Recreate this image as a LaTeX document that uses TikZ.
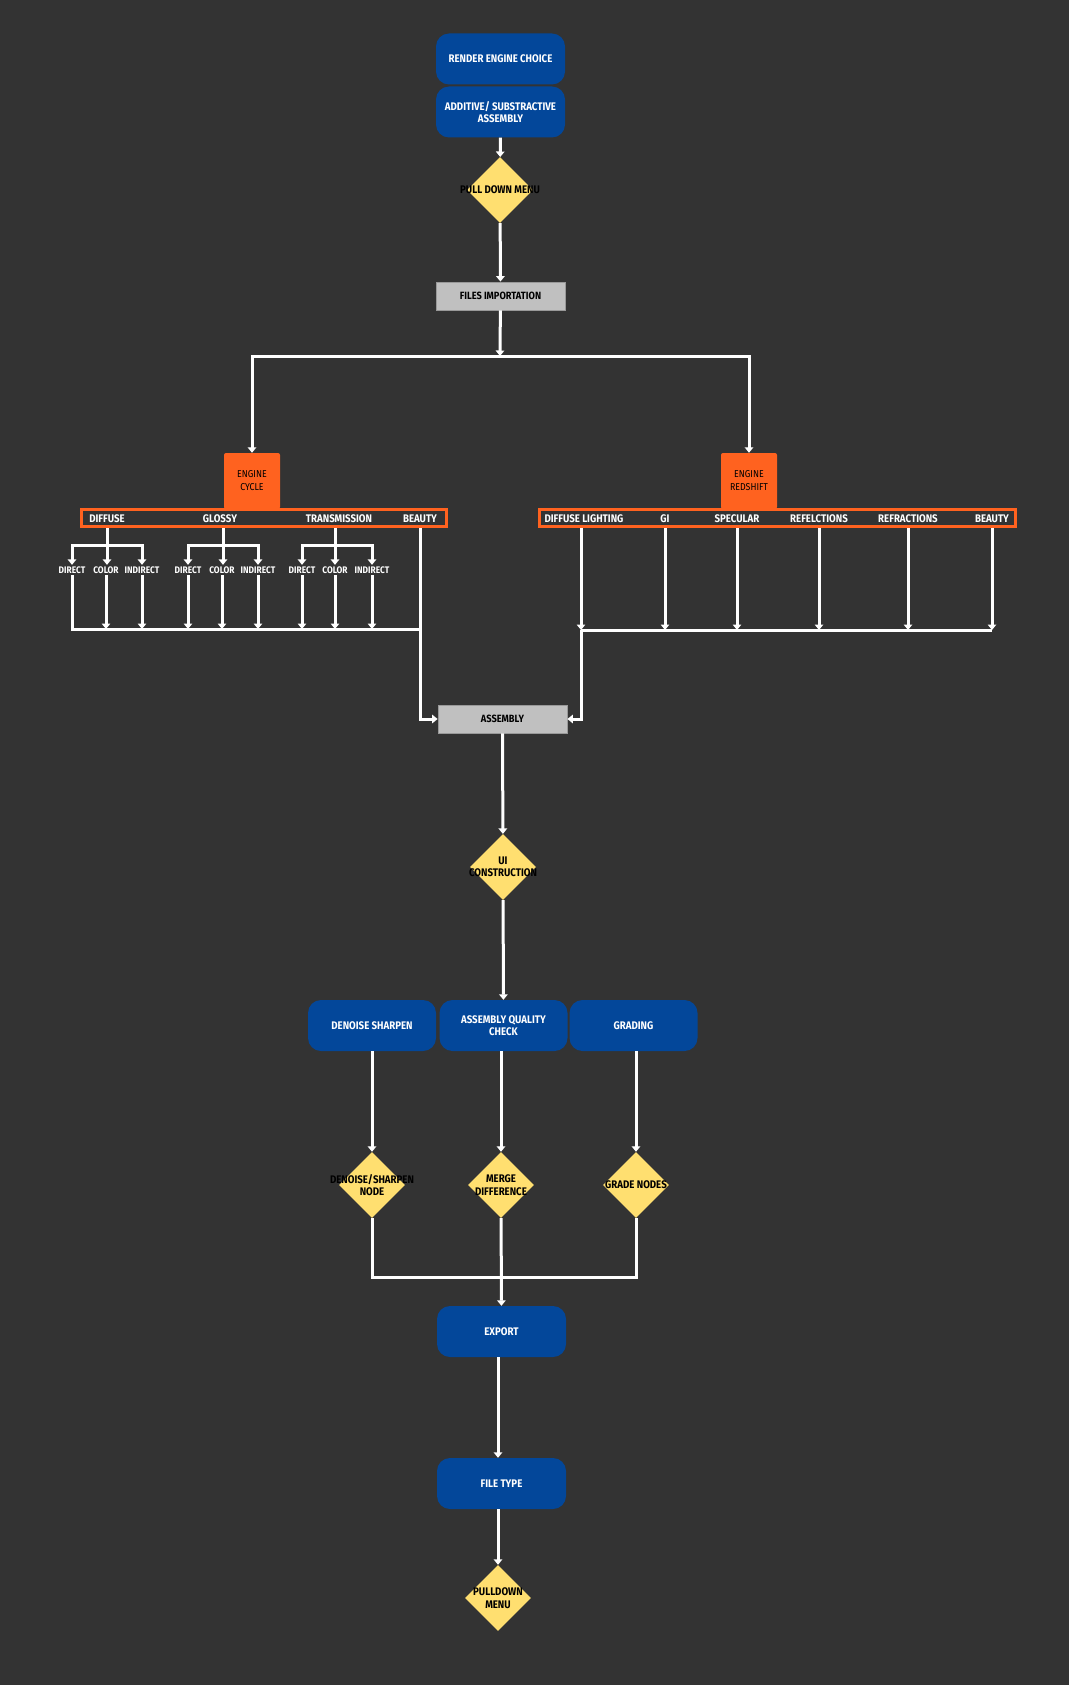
\documentclass[tikz,border=0pt]{standalone}
\usepackage{fontspec}
\setmainfont{Fira Sans}[FakeStretch=0.88]
\usetikzlibrary{arrows.meta,shapes.geometric,positioning}
\definecolor{bgdark}{HTML}{333333}
\definecolor{flowblue}{HTML}{03479A}
\definecolor{floworange}{HTML}{FF621F}
\definecolor{flowyellow}{HTML}{FFDF70}
\definecolor{flowgray}{HTML}{C0C0C0}
\begin{document}
\begin{tikzpicture}[x=1pt, y=-1pt,
    flow/.style={draw=white, line width=3pt, -{Triangle[width=8.5pt,length=5.5pt]}},
    wire/.style={draw=white, line width=3pt},
    bluebox/.style={rectangle, rounded corners=13pt, fill=flowblue, text=white, minimum width=129pt, minimum height=51pt, align=center, font=\bfseries\fontsize{11}{12.5}\selectfont},
    graybox/.style={rectangle, fill=flowgray, draw=gray!80, line width=0.8pt, minimum width=129pt, minimum height=28pt, font=\bfseries\fontsize{10.5}{10}\selectfont},
    choice/.style={diamond, fill=flowyellow, minimum width=66pt, minimum height=66pt, inner sep=0pt},
    choicetext/.style={align=center, text=black, font=\bfseries\fontsize{11}{12.5}\selectfont},
    enginebox/.style={rectangle, rounded corners=2pt, fill=floworange, minimum width=56pt, minimum height=56pt, align=center, font=\fontsize{10}{13}\selectfont},
    passbar/.style={rectangle, draw=floworange, line width=3pt, minimum height=17pt, inner sep=0pt},
    passlabel/.style={text=white, inner sep=1pt, font=\bfseries\fontsize{11}{10}\selectfont},
    sublabel/.style={text=white, inner sep=1.5pt, font=\bfseries\fontsize{9.5}{9}\selectfont}]

  % Background and page size
  \fill[bgdark] (0,0) rectangle (1069,1685);
  \useasboundingbox (0,0) rectangle (1069,1685);

  % Top of the chain
  \node[bluebox] (render) at (500.5,59) {RENDER ENGINE CHOICE};
  \node[bluebox] (additive) at (500.5,112) {ADDITIVE/ SUBSTRACTIVE\\ASSEMBLY};
  \node[choice] (pull) at (500,190) {};
  \node[choicetext] (pulltext) at (pull) {PULL DOWN MENU};
  \node[graybox] (files) at (500.5,296) {FILES IMPORTATION};
  \coordinate (split) at (500,356);

  % Engines and their pass bars
  \node[enginebox] (cycle) at (252,481) {ENGINE\\CYCLE};
  \node[enginebox] (redshift) at (749,481) {ENGINE\\REDSHIFT};
  \node[passbar, minimum width=365pt] (cycbar) at (264,518) {};
  \node[passbar, minimum width=476pt] (rsbar) at (777.5,518) {};

  \node[passlabel] (diffuse) at (107,519) {DIFFUSE};
  \node[passlabel] (glossy) at (220,519) {GLOSSY};
  \node[passlabel] (transm) at (339,519) {TRANSMISSION};
  \node[passlabel] (cbeauty) at (420,519) {BEAUTY};

  \node[passlabel] (dlight) at (584,519) {DIFFUSE LIGHTING};
  \node[passlabel] (gi) at (665,519) {GI};
  \node[passlabel] (spec) at (737,519) {SPECULAR};
  \node[passlabel] (refl) at (819,519) {REFELCTIONS};
  \node[passlabel] (refr) at (908,519) {REFRACTIONS};
  \node[passlabel] (rbeauty) at (992,519) {BEAUTY};

  % Sub passes of the cycle engine
  \node[sublabel] (dd) at (72,570) {DIRECT};
  \node[sublabel] (dc) at (106,570) {COLOR};
  \node[sublabel] (di) at (142,570) {INDIRECT};
  \node[sublabel] (gd) at (188,570) {DIRECT};
  \node[sublabel] (gc) at (222,570) {COLOR};
  \node[sublabel] (gin) at (258,570) {INDIRECT};
  \node[sublabel] (td) at (302,570) {DIRECT};
  \node[sublabel] (tc) at (335,570) {COLOR};
  \node[sublabel] (ti) at (372,570) {INDIRECT};

  % Assembly and UI
  \node[graybox] (assembly) at (502.5,719) {ASSEMBLY};
  \node[choice] (ui) at (503,867) {};
  \node[choicetext] (uitext) at (ui) {UI\\CONSTRUCTION};

  % Three checks
  \node[bluebox, minimum width=128pt] (denoise) at (372,1025.5) {DENOISE SHARPEN};
  \node[bluebox, minimum width=128pt] (qc) at (503.5,1025.5) {ASSEMBLY QUALITY\\CHECK};
  \node[bluebox, minimum width=128pt] (grading) at (633.5,1025.5) {GRADING};
  \node[choice] (dnode) at (372,1185) {};
  \node[choicetext] (dnodetext) at (dnode) {DENOISE/SHARPEN\\NODE};
  \node[choice] (merge) at (501,1185) {};
  \node[choicetext] (mergetext) at (merge) {MERGE\\DIFFERENCE};
  \node[choice] (grade) at (636,1185) {};
  \node[choicetext] (gradetext) at (grade) {GRADE NODES};

  % Output
  \node[bluebox] (export) at (501.5,1331.5) {EXPORT};
  \node[bluebox] (filetype) at (501.5,1483.5) {FILE TYPE};
  \node[choice] (pulldown) at (498,1598) {};
  \node[choicetext] (pulldowntext) at (pulldown) {PULLDOWN\\MENU};

  \coordinate (dfork) at (107,545);
  \coordinate (gfork) at (223,545);
  \coordinate (tfork) at (335,545);
  \coordinate (cbus) at (0,629);
  \coordinate (rbus) at (0,630);
  \coordinate (jbus) at (0,1277);

  % Connect nodes with arrows
  \draw[flow] (additive) -- (pull);
  \draw[flow] (pull) -- (files);
  \draw[flow] (files) -- (split);
  \draw[flow] (split) -| (cycle);
  \draw[flow] (split) -| (redshift);

  % Cycle branches
  \draw[wire] (dfork |- cycbar.south) -- (dfork);
  \draw[flow] (dfork) -| (dd);
  \draw[flow] (dfork) -- (dfork |- dc.north);
  \draw[flow] (dfork) -| (di);
  \draw[wire] (gfork |- cycbar.south) -- (gfork);
  \draw[flow] (gfork) -| (gd);
  \draw[flow] (gfork) -- (gfork |- gc.north);
  \draw[flow] (gfork) -| (gin);
  \draw[wire] (tfork |- cycbar.south) -- (tfork);
  \draw[flow] (tfork) -| (td);
  \draw[flow] (tfork) -- (tfork |- tc.north);
  \draw[flow] (tfork) -| (ti);

  \draw[wire] (dd.south) -- (dd |- cbus) -- (cbeauty |- cbus);
  \draw[flow] (dc.south) -- (dc |- cbus);
  \draw[flow] (di.south) -- (di |- cbus);
  \draw[flow] (gd.south) -- (gd |- cbus);
  \draw[flow] (gc.south) -- (gc |- cbus);
  \draw[flow] (gin.south) -- (gin |- cbus);
  \draw[flow] (td.south) -- (td |- cbus);
  \draw[flow] (tc.south) -- (tc |- cbus);
  \draw[flow] (ti.south) -- (ti |- cbus);
  \draw[flow] (cbeauty |- cycbar.south) |- (assembly.west);

  % Redshift branches
  \coordinate (rleft) at (581,630);
  \draw[flow] (rleft |- rsbar.south) -- (rleft);
  \draw[flow] (gi |- rsbar.south) -- (gi |- rbus);
  \draw[flow] (spec |- rsbar.south) -- (spec |- rbus);
  \draw[flow] (refl |- rsbar.south) -- (refl |- rbus);
  \draw[flow] (refr |- rsbar.south) -- (refr |- rbus);
  \draw[flow] (rbeauty |- rsbar.south) -- (rbeauty |- rbus);
  \draw[wire] (rleft) -- (rbeauty |- rbus);
  \draw[flow] (rleft) |- (assembly.east);

  % Lower chain
  \draw[flow] (assembly) -- (ui);
  \draw[flow] (ui) -- (qc);
  \draw[flow] (denoise) -- (dnode);
  \draw[flow] (qc.south -| merge) -- (merge);
  \draw[flow] (grading.south -| grade) -- (grade);
  \draw[wire] (dnode.south) |- (grade |- jbus) -- (grade.south);
  \draw[flow] (merge) -- (export);
  \draw[flow] (export.south -| pulldown) -- (filetype.north -| pulldown);
  \draw[flow] (filetype.south -| pulldown) -- (pulldown);
\end{tikzpicture}
\end{document}
